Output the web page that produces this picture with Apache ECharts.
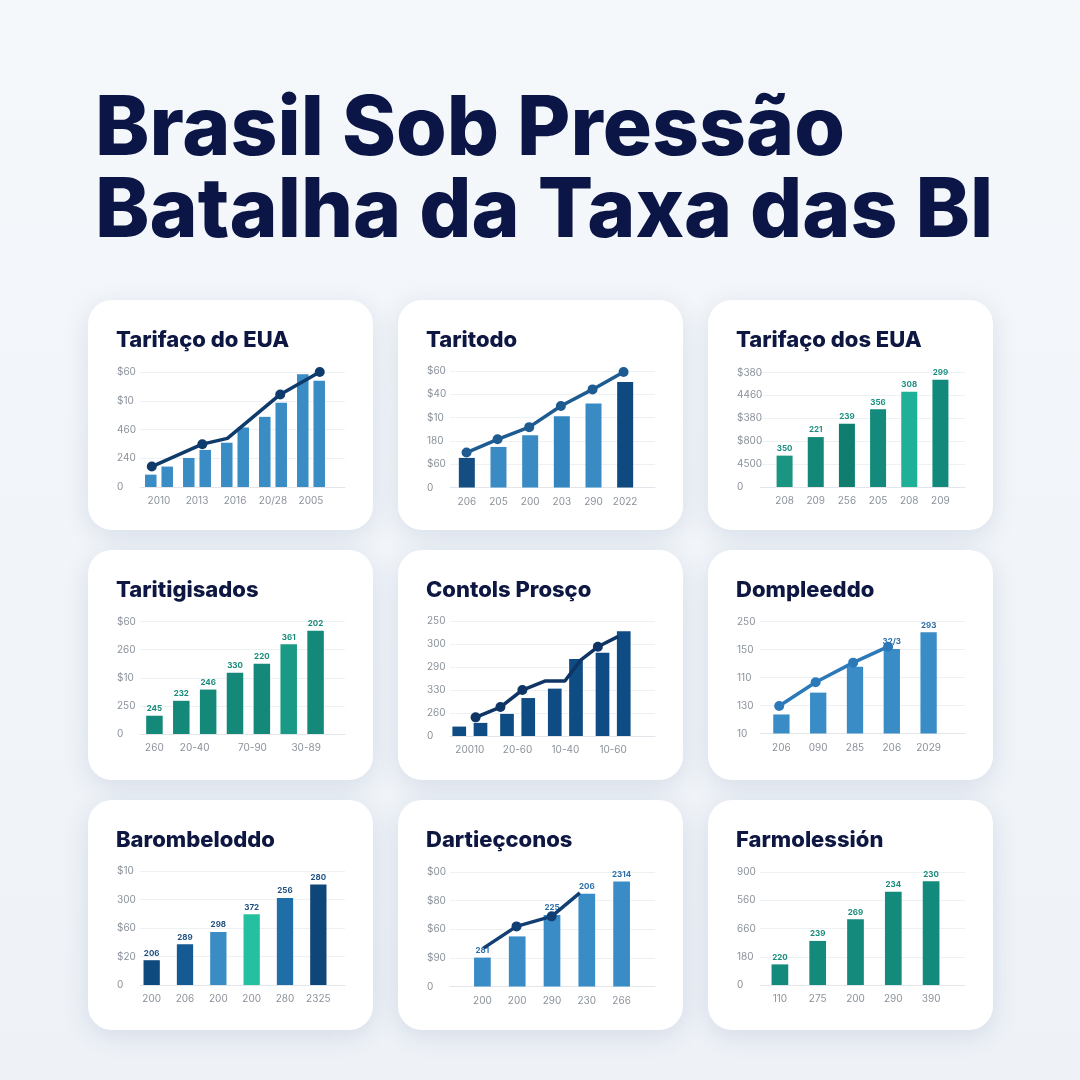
<!DOCTYPE html>
<html>
<head>
<meta charset="utf-8">
<script src="https://cdn.jsdelivr.net/npm/echarts@6/dist/echarts.min.js"></script>
<style>
  html, body { margin: 0; padding: 0; background: #f3f6fa; }
  #main { width: 1080px; height: 1080px; }
</style>
</head>
<body>
<div id="main"></div>
<script>
// 页面标题
const pageTitle = ['Brasil Sob Pressão', 'Batalha da Taxa das Bl']

// 卡片 1 (values in gridline units)
const c1Name = 'Tarifaço do EUA'
const c1YLabels = ['0', '240', '460', '$10', '$60']
const c1XLabels = ['2010', '2013', '2016', '20/28', '2005']
const c1BarsA = [0.43, 1.01, 1.54, 2.44, 3.92]
const c1BarsB = [0.71, 1.29, 2.07, 2.93, 3.70]
const c1LineX = [0.31, 1.64, 2.30, 3.69, 4.73]
const c1LineY = [0.71, 1.49, 1.69, 3.22, 4.00]
const c1LineDots = [1, 1, 0, 1, 1]

// 卡片 2
const c2Name = 'Taritodo'
const c2YLabels = ['0', '$60', '180', '$10', '$40', '$60']
const c2XLabels = ['206', '205', '200', '203', '290', '2022']
const c2Bars = [1.27, 1.74, 2.24, 3.06, 3.60, 4.53]
const c2LineX = [0.49, 1.47, 2.47, 3.47, 4.47, 5.45]
const c2LineY = [1.50, 2.07, 2.59, 3.50, 4.21, 4.96]
const c2LineDots = [1, 1, 1, 1, 1, 1]

// 卡片 3
const c3Name = 'Tarifaço dos EUA'
const c3YLabels = ['0', '4500', '$800', '$380', '4460', '$380']
const c3XLabels = ['208', '209', '256', '205', '208', '209']
const c3Bars = [1.37, 2.18, 2.76, 3.40, 4.16, 4.68]
const c3BarLabels = ['350', '221', '239', '356', '308', '299']

// 卡片 4
const c4Name = 'Taritigisados'
const c4YLabels = ['0', '250', '$10', '260', '$60']
const c4XLabels = ['260', '20-40', '70-90', '30-89']
const c4XLabelPos = [0.5, 2.0, 4.15, 6.15]
const c4Bars = [0.65, 1.18, 1.58, 2.18, 2.50, 3.19, 3.67]
const c4BarLabels = ['245', '232', '246', '330', '220', '361', '202']

// 卡片 5
const c5Name = 'Contols Prosço'
const c5YLabels = ['0', '260', '330', '290', '300', '250']
const c5XLabels = ['20010', '20-60', '10-40', '10-60']
const c5BarsA = [0.41, 0.96, 2.06, 3.62]
const c5BarsB = [0.57, 1.65, 3.35, 4.55]
const c5LineX = [0.62, 1.14, 1.60, 2.07, 2.49, 2.82, 3.18, 3.60]
const c5LineY = [0.81, 1.26, 2.00, 2.39, 2.39, 3.30, 3.88, 4.32]
const c5LineDots = [1, 1, 1, 0, 0, 0, 1, 0]

// 卡片 6
const c6Name = 'Dompleeddo'
const c6YLabels = ['10', '130', '110', '150', '250']
const c6XLabels = ['206', '090', '285', '206', '2029']
const c6Bars = [0.68, 1.46, 2.38, 3.02, 3.62]
const c6BarLabels = ['', '', '', '32/3', '293']
const c6LineX = [0.44, 1.43, 2.45, 3.40]
const c6LineY = [0.98, 1.83, 2.53, 3.10]
const c6LineDots = [1, 1, 1, 1]

// 卡片 7
const c7Name = 'Barombeloddo'
const c7YLabels = ['0', '$20', '$60', '300', '$10']
const c7XLabels = ['200', '206', '200', '200', '280', '2325']
const c7Bars = [0.87, 1.43, 1.86, 2.48, 3.05, 3.53]
const c7BarLabels = ['206', '289', '298', '372', '256', '280']

// 卡片 8
const c8Name = 'Dartieçconos'
const c8YLabels = ['0', '$90', '$60', '$80', '$00']
const c8XLabels = ['200', '200', '290', '230', '266']
const c8Bars = [1.01, 1.75, 2.50, 3.24, 3.67]
const c8BarLabels = ['281', '', '225', '206', '2314']
const c8LineX = [0.53, 1.48, 2.49, 3.30]
const c8LineY = [1.34, 2.10, 2.45, 3.27]
const c8LineDots = [0, 1, 1, 0]

// 卡片 9
const c9Name = 'Farmolessión'
const c9YLabels = ['0', '180', '660', '560', '900']
const c9XLabels = ['110', '275', '200', '290', '390']
const c9Bars = [0.73, 1.56, 2.33, 3.30, 3.67]
const c9BarLabels = ['220', '239', '269', '234', '230']

// colors
const blue = '#3a8cc4'
const teal = '#14897a'

const cards = [
  { name: c1Name, yLabels: c1YLabels, xLabels: c1XLabels,
    bars: [{ data: c1BarsA, color: blue }, { data: c1BarsB, color: blue }],
    line: { x: c1LineX, y: c1LineY, dots: c1LineDots, color: '#0f3a6c' },
    span: [52, 242], top: 72, zero: 187, barWidth: 11.5, barGap: '43%' },
  { name: c2Name, yLabels: c2YLabels, xLabels: c2XLabels,
    bars: [{ data: c2Bars, colors: ['#134d82', '#3a8bc4', '#3a8bc4', '#3385c0', '#3a8bc4', '#0e4a7f'] }],
    line: { x: c2LineX, y: c2LineY, dots: c2LineDots, color: '#1d5b91' },
    span: [53, 243], top: 71, zero: 187.5, barWidth: 16 },
  { name: c3Name, yLabels: c3YLabels, xLabels: c3XLabels,
    bars: [{ data: c3Bars, labels: c3BarLabels, labelColor: '#1a8f80',
      colors: ['#1a9582', '#138878', '#0f7e6f', '#138a7b', '#1fb197', '#12897b'] }],
    span: [61, 248], top: 72.5, zero: 187, barWidth: 16 },
  { name: c4Name, yLabels: c4YLabels, xLabels: c4XLabels, xLabelPos: c4XLabelPos,
    bars: [{ data: c4Bars, labels: c4BarLabels, labelColor: '#178a7a',
      colors: [teal, teal, teal, teal, teal, '#1a9a86', teal] }],
    span: [53, 241], top: 71.5, zero: 184, barWidth: 16.5 },
  { name: c5Name, yLabels: c5YLabels, xLabels: c5XLabels,
    bars: [{ data: c5BarsA, color: '#0f4c84' }, { data: c5BarsB, color: '#0f4c84' }],
    line: { x: c5LineX, y: c5LineY, dots: c5LineDots, color: '#0f3566' },
    span: [48, 239], top: 71, zero: 186, barWidth: 13.7, barGap: '55%' },
  { name: c6Name, yLabels: c6YLabels, xLabels: c6XLabels,
    bars: [{ data: c6Bars, labels: c6BarLabels, labelColor: '#2a6faa', color: '#3a8cc6' }],
    line: { x: c6LineX, y: c6LineY, dots: c6LineDots, color: '#2b79b8' },
    span: [55, 239], top: 71.5, zero: 183.5, barWidth: 16.3 },
  { name: c7Name, yLabels: c7YLabels, xLabels: c7XLabels,
    bars: [{ data: c7Bars, labels: c7BarLabels, labelColor: '#1e4f80',
      colors: ['#0f4a7e', '#155a92', '#3a8cc4', '#24c0a0', '#1f6ea8', '#0e4679'] }],
    span: [47, 247], top: 71, zero: 185, barWidth: 16.3 },
  { name: c8Name, yLabels: c8YLabels, xLabels: c8XLabels,
    bars: [{ data: c8Bars, labels: c8BarLabels, labelColor: '#2a6faa', color: '#3a8cc6' }],
    line: { x: c8LineX, y: c8LineY, dots: c8LineDots, color: '#123f73' },
    span: [67, 241], top: 72, zero: 186.5, barWidth: 16.7 },
  { name: c9Name, yLabels: c9YLabels, xLabels: c9XLabels,
    bars: [{ data: c9Bars, labels: c9BarLabels, labelColor: '#178a7a', color: '#138a7b' }],
    span: [53, 242], top: 72, zero: 185, barWidth: 16.7 }
]

const colX = [88, 398, 708]
const rowY = [300, 550, 800]
const cardW = 285
const cardH = 230
const font = 'Inter, "Noto Sans", sans-serif'
const tickColor = '#8b929b'

let option = {
  backgroundColor: {
    type: 'linear', x: 0, y: 0, x2: 0, y2: 1,
    colorStops: [{ offset: 0, color: '#f5f8fb' }, { offset: 1, color: '#eef2f7' }]
  },
  title: [{
    text: pageTitle.join('\n'),
    left: 90,
    top: 84,
    textStyle: { fontFamily: font, fontSize: 82, fontWeight: 800, color: '#0b1647', lineHeight: 82 }
  }],
  graphic: [],
  grid: [],
  xAxis: [],
  yAxis: [],
  series: []
}

cards.forEach(function (c, idx) {
  const x0 = colX[idx % 3]
  const y0 = rowY[Math.floor(idx / 3)]
  const nCat = c.bars[0].data.length
  const yMax = c.yLabels.length - 1

  option.graphic.push({
    type: 'rect', z: -10,
    shape: { x: x0, y: y0, width: cardW, height: cardH, r: 24 },
    style: { fill: '#ffffff', shadowBlur: 26, shadowColor: 'rgba(40,70,120,0.13)', shadowOffsetY: 6 }
  })
  option.title.push({
    text: c.name, left: x0 + 23, top: y0 + 24,
    textStyle: { fontFamily: font, fontSize: 22, fontWeight: 800, color: '#0d1741' }
  })

  // frame grid: gridlines + y labels
  const fg = option.grid.length
  option.grid.push({ left: x0 + 52, top: y0 + c.top, width: 205, height: c.zero - c.top })
  // bar grid
  const bg = option.grid.length
  option.grid.push({ left: x0 + c.span[0], top: y0 + c.top, width: c.span[1] - c.span[0], height: c.zero - c.top })

  option.xAxis.push({
    type: 'value', gridIndex: fg, min: 0, max: 1,
    axisLine: { show: true, lineStyle: { color: '#e2e6eb', width: 1 } },
    axisTick: { show: false }, axisLabel: { show: false }, splitLine: { show: false }
  })
  option.yAxis.push({
    type: 'value', gridIndex: fg, min: 0, max: yMax, interval: 1,
    axisLine: { show: false }, axisTick: { show: false },
    splitLine: { lineStyle: { color: '#eef1f4', width: 1 } },
    axisLabel: {
      align: 'left', margin: 23, color: tickColor, fontSize: 10, fontFamily: font,
      formatter: function (v) { return c.yLabels[Math.round(v)] }
    }
  })

  const bx = option.xAxis.length
  option.xAxis.push({
    type: 'category', gridIndex: bg, position: 'bottom',
    data: c.xLabelPos ? c.bars[0].data.map(function (d, i) { return i }) : c.xLabels,
    axisLine: { show: false }, axisTick: { show: false },
    axisLabel: { show: !c.xLabelPos, interval: 0, margin: 9, color: tickColor, fontSize: 10, fontFamily: font }
  })
  const by = option.yAxis.length
  option.yAxis.push({ type: 'value', gridIndex: bg, min: 0, max: yMax, show: false })

  if (c.xLabelPos) {
    // labels sit between some bars, so they go on their own axis
    option.xAxis.push({
      type: 'value', gridIndex: bg, position: 'bottom', offset: 0, min: 0, max: nCat,
      axisLine: { show: false }, axisTick: { show: false }, splitLine: { show: false },
      axisLabel: {
        customValues: c.xLabelPos, margin: 9, color: tickColor, fontSize: 10, fontFamily: font,
        formatter: function (v) {
          const i = c.xLabelPos.indexOf(v)
          return i >= 0 ? c.xLabels[i] : ''
        }
      }
    })
  }

  c.bars.forEach(function (b) {
    option.series.push({
      type: 'bar', xAxisIndex: bx, yAxisIndex: by,
      barWidth: c.barWidth, barGap: c.barGap || '30%',
      data: b.data.map(function (v, i) {
        return { value: v, itemStyle: { color: b.colors ? b.colors[i] : b.color } }
      }),
      label: {
        show: !!b.labels, position: 'top', distance: 3,
        fontSize: 8, fontWeight: 'bold', fontFamily: font, color: b.labelColor,
        formatter: function (p) { return b.labels ? b.labels[p.dataIndex] : '' }
      }
    })
  })

  if (c.line) {
    const lx = option.xAxis.length
    option.xAxis.push({ type: 'value', gridIndex: bg, position: 'bottom', min: 0, max: nCat, show: false })
    option.series.push({
      type: 'line', xAxisIndex: lx, yAxisIndex: by, z: 5,
      data: c.line.x.map(function (x, i) {
        return { value: [x, c.line.y[i]], symbol: c.line.dots[i] ? 'circle' : 'none' }
      }),
      symbolSize: 10,
      lineStyle: { color: c.line.color, width: 3.5 },
      itemStyle: { color: c.line.color }
    })
  }
})

let myChart = echarts.init(document.getElementById('main'))
myChart.setOption(option)
</script>
</body>
</html>
